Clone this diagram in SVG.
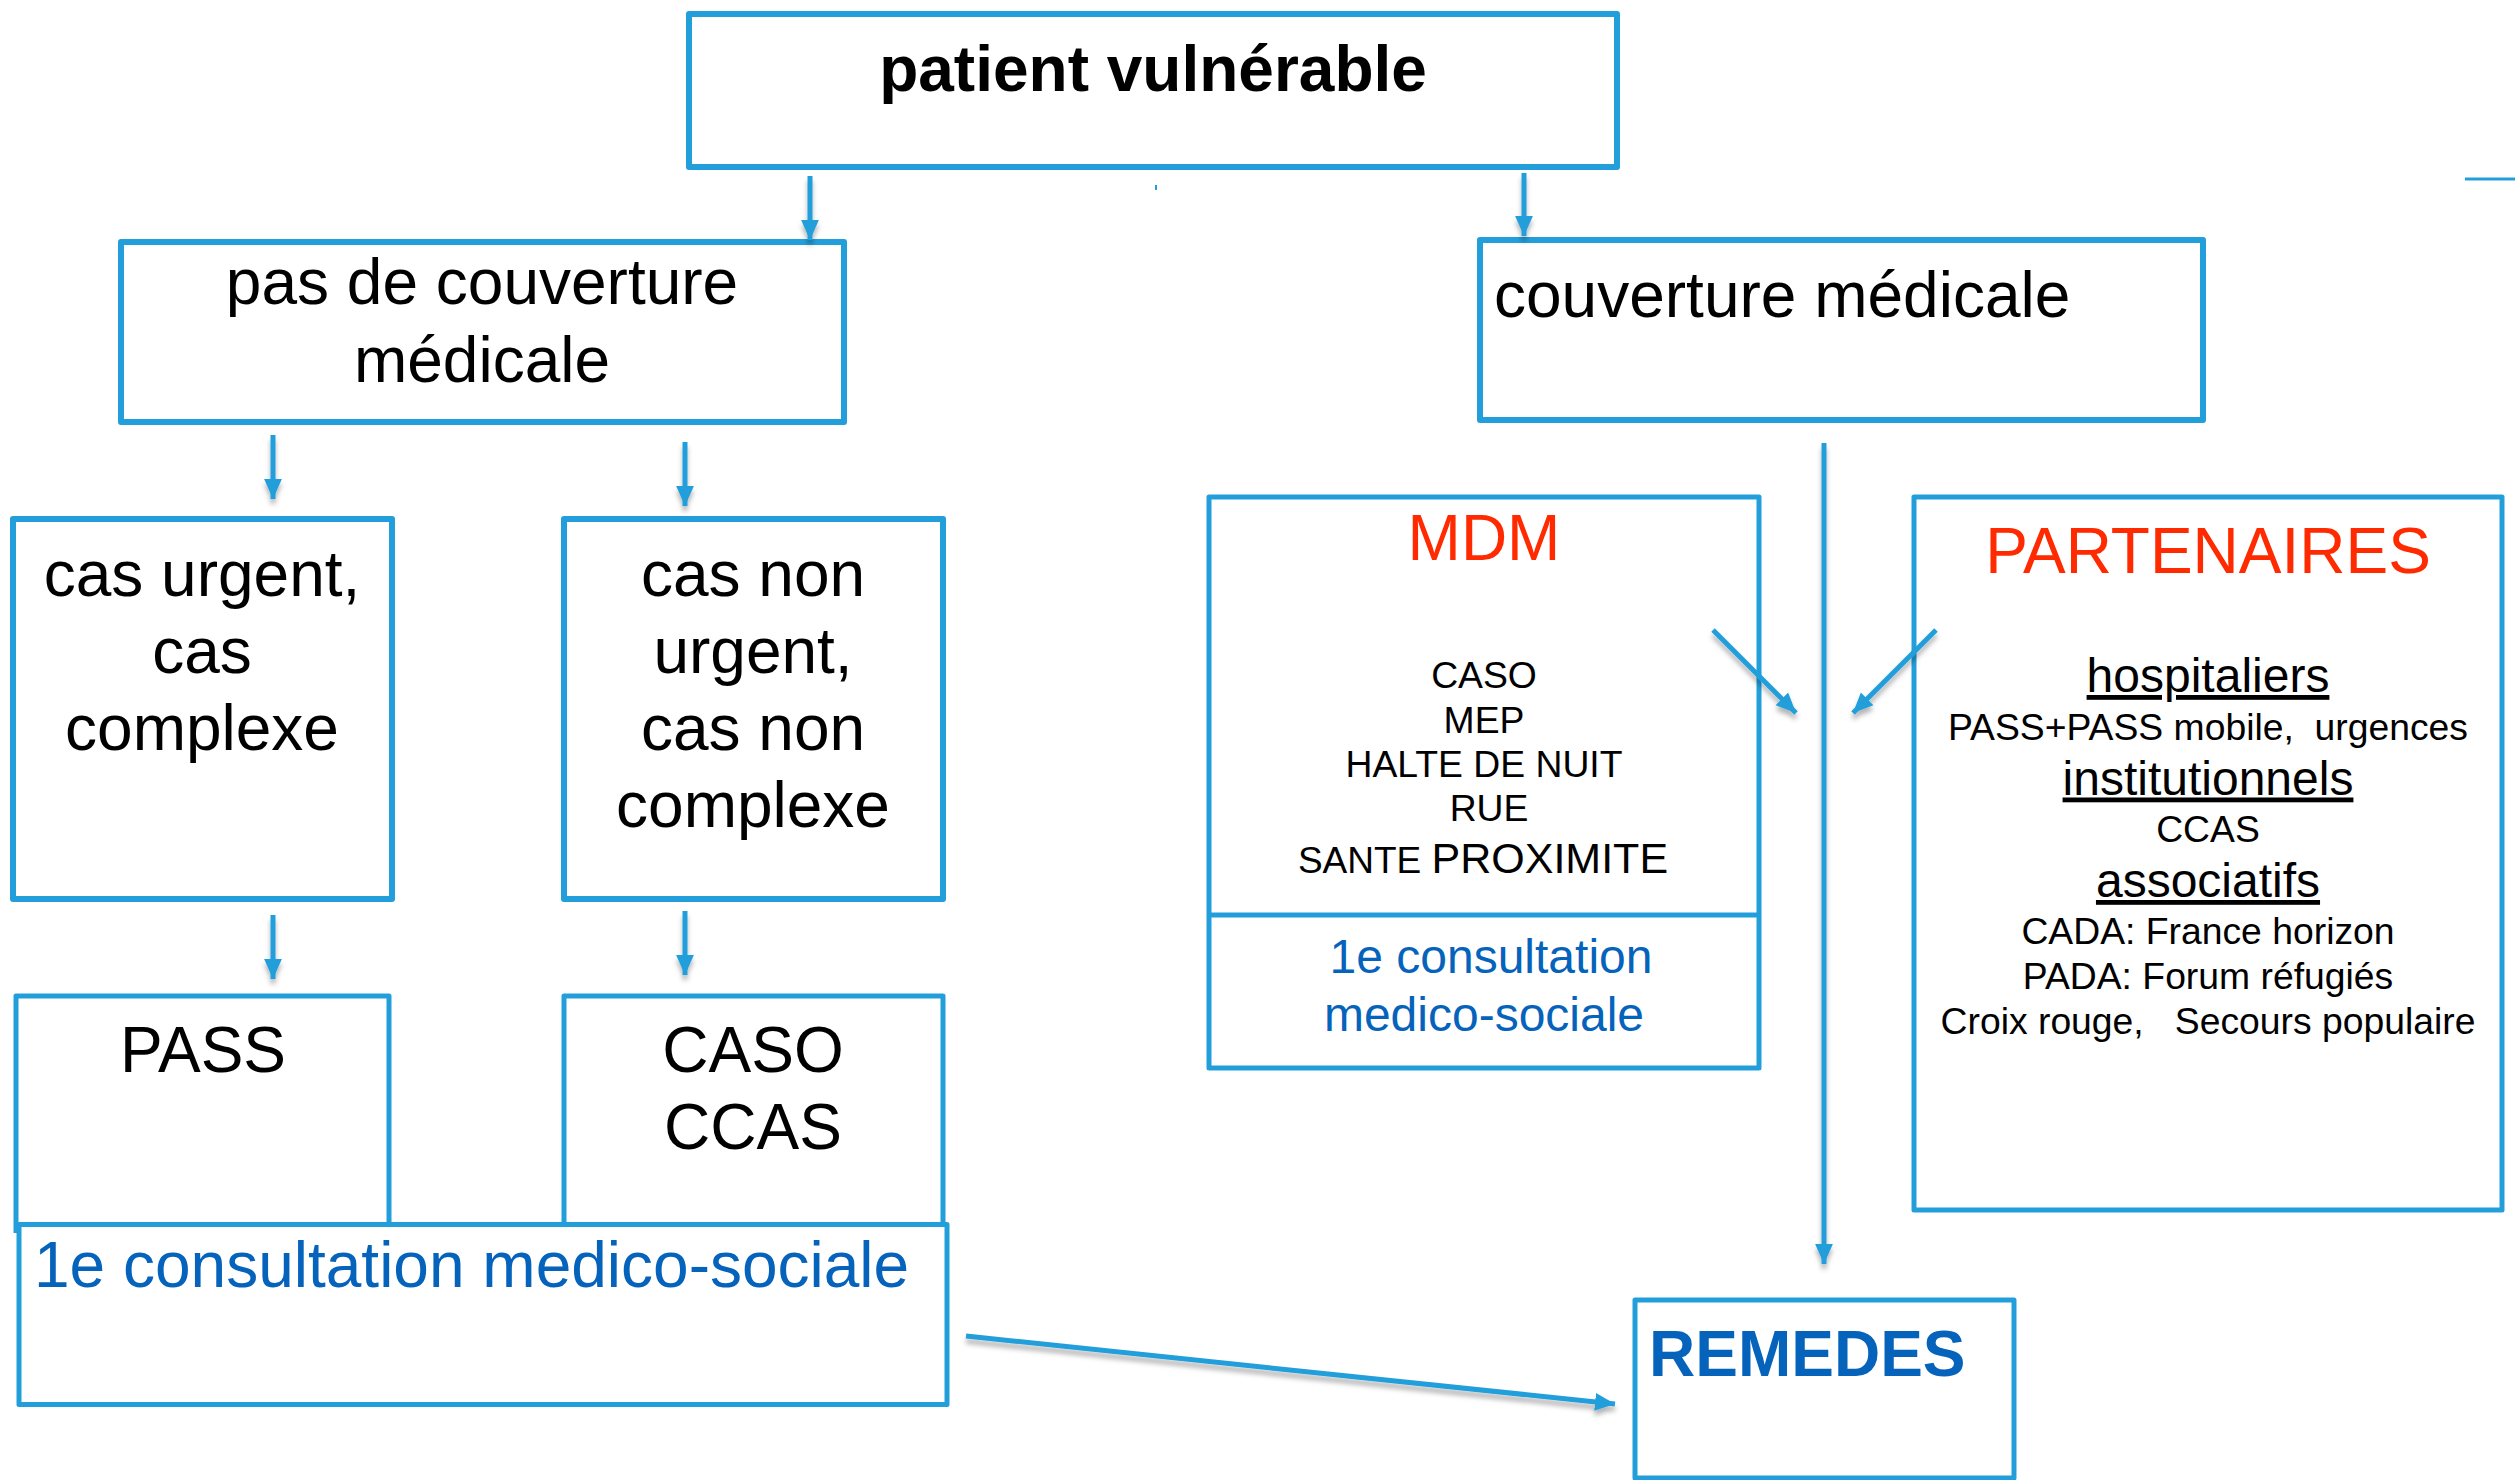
<svg xmlns="http://www.w3.org/2000/svg" width="2515" height="1480" viewBox="0 0 2515 1480">
<style>
text{font-family:"Liberation Sans",Arial,sans-serif;fill:#000;white-space:pre}
.box{fill:none;stroke:#229fdb;stroke-width:6;stroke-linejoin:round}
.thin{stroke-width:5}
.c{text-anchor:middle}
.xl{font-size:64px}
.l{font-size:48px}
.s{font-size:37.3px}
.b{font-weight:bold}
.blue{fill:#0563bb}
.red{fill:#ff2a00}
.u{text-decoration:underline}
.conn line{stroke:#229fdb;stroke-width:5}
</style>
<defs>
<marker id="arrow" markerUnits="userSpaceOnUse" markerWidth="20" markerHeight="20" refX="18" refY="8" orient="auto" viewBox="0 0 18 16"><path d="M0 0L18 8L0 16Z" fill="#229fdb"/></marker>
<filter id="sh" x="-20%" y="-20%" width="140%" height="140%"><feDropShadow dx="0" dy="5" stdDeviation="2.5" flood-color="#000" flood-opacity="0.3"/></filter>
</defs>
<rect width="2515" height="1480" fill="#fff"/>
<g id="n-patient"><rect class="box" x="689" y="14" width="928" height="153"/><text class="xl b c" x="1153" y="90.5">patient vulnérable</text></g>
<g id="n-pas"><rect class="box" x="121" y="242" width="723" height="180"/><text class="xl c" x="482" y="303.5">pas de couverture</text><text class="xl c" x="482" y="381.5">médicale</text></g>
<g id="n-couv"><rect class="box" x="1480" y="240" width="723" height="180"/><text class="xl" x="1494" y="317">couverture médicale</text></g>
<g id="n-urgent"><rect class="box" x="13" y="519" width="379" height="380"/><text class="xl c" x="202" y="595.5">cas urgent,</text><text class="xl c" x="202" y="672.5">cas</text><text class="xl c" x="202" y="749.5">complexe</text></g>
<g id="n-nonurgent"><rect class="box" x="564" y="519" width="379" height="380"/><text class="xl c" x="753" y="595.5">cas non</text><text class="xl c" x="753" y="672.5">urgent,</text><text class="xl c" x="753" y="749.5">cas non</text><text class="xl c" x="753" y="826.5">complexe</text></g>
<g id="n-pass"><path class="box thin" d="M16 1233V996H389V1224"/><text class="xl c" x="203" y="1071.5">PASS</text></g>
<g id="n-caso"><path class="box thin" d="M564 1224V996H943V1224"/><text class="xl c" x="753" y="1071.5">CASO</text><text class="xl c" x="753" y="1148.5">CCAS</text></g>
<g id="n-consult"><rect class="box thin" x="19" y="1224.5" width="928" height="180"/><text class="xl blue" x="34" y="1287">1e consultation medico-sociale</text></g>
<g id="n-mdm"><rect class="box thin" x="1209" y="497" width="550" height="571"/><line class="box thin" x1="1209" y1="915" x2="1759" y2="915"/><text class="xl c red" x="1484" y="559.5">MDM</text><text class="s c" x="1484" y="687.5">CASO</text><text class="s c" x="1484" y="732.5">MEP</text><text class="s c" x="1484" y="777">HALTE DE NUIT</text><text class="s c" x="1489" y="821">RUE</text><text class="s c" x="1483" y="872.5" style="font-size:37px">SANTE <tspan font-size="43">PROXIMITE</tspan></text><text class="l c blue" x="1491" y="972.5">1e consultation</text><text class="l c blue" x="1484" y="1030.5">medico-sociale</text></g>
<g id="n-part"><rect class="box thin" x="1914" y="497" width="588" height="713"/><text class="xl c red" x="2208" y="573">PARTENAIRES</text><text class="l c u" x="2208" y="692">hospitaliers</text><text class="s c" x="2208" y="740">PASS+PASS mobile,  urgences</text><text class="l c u" x="2208" y="794.5">institutionnels</text><text class="s c" x="2208" y="841.5">CCAS</text><text class="l c u" x="2208" y="897">associatifs</text><text class="s c" x="2208" y="944">CADA: France horizon</text><text class="s c" x="2208" y="989">PADA: Forum réfugiés</text><text class="s c" x="2208" y="1034">Croix rouge,   Secours populaire</text></g>
<g id="n-remedes"><rect class="box thin" x="1635" y="1300" width="379" height="178"/><text class="xl b blue" x="1649" y="1376">REMEDES</text></g>
<g id="connectors" class="conn" filter="url(#sh)">
<line x1="810" y1="176" x2="810" y2="240" marker-end="url(#arrow)"/>
<line x1="1524" y1="173" x2="1524" y2="236" marker-end="url(#arrow)"/>
<line x1="273" y1="435" x2="273" y2="499" marker-end="url(#arrow)"/>
<line x1="685" y1="442" x2="685" y2="506" marker-end="url(#arrow)"/>
<line x1="273" y1="915" x2="273" y2="979" marker-end="url(#arrow)"/>
<line x1="685" y1="911" x2="685" y2="975" marker-end="url(#arrow)"/>
<line x1="1824" y1="443" x2="1824" y2="1264" marker-end="url(#arrow)"/>
<line x1="1713" y1="630" x2="1796" y2="713" marker-end="url(#arrow)"/>
<line x1="1936" y1="630" x2="1853" y2="713" marker-end="url(#arrow)"/>
<line x1="966" y1="1336" x2="1615" y2="1404" marker-end="url(#arrow)"/>
</g>
<g id="marks"><line x1="2465" y1="179" x2="2515" y2="179" stroke="#229fdb" stroke-width="3"/><line x1="1156" y1="185" x2="1156" y2="190" stroke="#229fdb" stroke-width="2"/></g>
</svg>
